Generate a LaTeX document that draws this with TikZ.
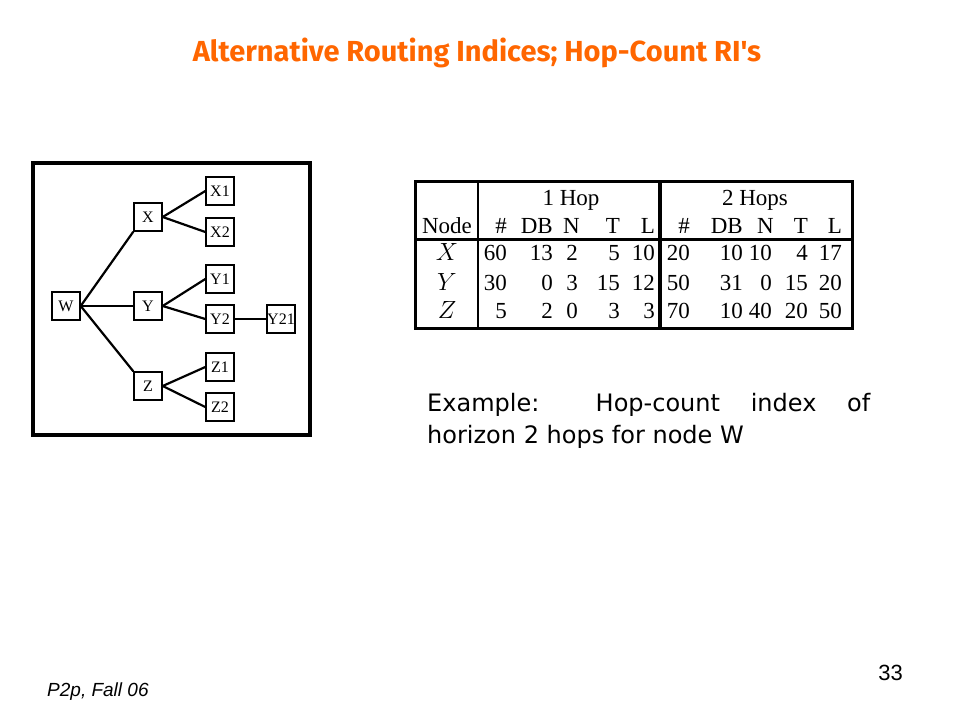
\documentclass[tikz,border=0pt]{standalone}
\usepackage{fontspec}
\setmainfont{Liberation Serif}
\newfontfamily\slidefont{Fira Sans}
\newfontfamily\bodyfont{DejaVu Sans}
\newfontfamily\numfont{Liberation Sans}
\usepackage{tikz}
\usetikzlibrary{positioning}

\definecolor{titleorange}{RGB}{255,102,0}

\begin{document}
\begin{tikzpicture}[x=1pt, y=-1pt,
		box/.style={draw, line width=1.4pt, fill=white, minimum width=28pt, minimum height=28pt, inner sep=0pt, font=\fontsize{16}{16}\selectfont},
		link/.style={line width=2.2pt},
		cell/.style={anchor=base east, inner sep=0pt, font=\fontsize{23}{23}\selectfont},
		head/.style={anchor=base, inner sep=0pt, font=\fontsize{23}{23}\selectfont}]
		\useasboundingbox (0, 0) rectangle (960, 720);
		% title
		\node[text=titleorange, font=\slidefont\bfseries\fontsize{29}{29}\selectfont] (title) at (477, 53) {Alternative Routing Indices; Hop-Count RI's};
		% tree of nodes
		\draw[line width=4pt] (33, 163) rectangle (310, 435);
		\node[box] (W) at (66, 306) {W};
		\node[box] (X) at (148, 217) {X};
		\node[box] (Y) at (148, 306) {Y};
		\node[box] (Z) at (148, 386) {Z};
		\node[box] (X1) at (220, 191) {X1};
		\node[box] (X2) at (220, 232) {X2};
		\node[box] (Y1) at (220, 279) {Y1};
		\node[box] (Y2) at (220, 319) {Y2};
		\node[box] (Y21) at (281, 319) {Y21};
		\node[box] (Z1) at (220, 367) {Z1};
		\node[box] (Z2) at (220, 407) {Z2};
		\draw[link] (W.east) -- (X.south west);
		\draw[link] (W.east) -- (Y.west);
		\draw[link] (W.east) -- (Z.north west);
		\draw[link] (X.east) -- (X1.west);
		\draw[link] (X.east) -- (X2.west);
		\draw[link] (Y.east) -- (Y1.west);
		\draw[link] (Y.east) -- (Y2.west);
		\draw[link] (Z.east) -- (Z1.west);
		\draw[link] (Z.east) -- (Z2.west);
		\draw[line width=1.2pt] (Y2.east) -- (Y21.west);
		% table
		\draw[line width=3pt] (415, 181) rectangle (852, 328);
		\draw[line width=2pt] (478, 181) -- (478, 328);
		\draw[line width=3.5pt] (660, 181) -- (660, 328);
		\draw[line width=3pt] (415, 239) -- (852, 239);
		\node[head] (hop1) at (571, 205) {1 Hop};
		\node[head] (hop2) at (755, 205) {2 Hops};
		\node[head] (nodecol) at (447, 233) {Node};
		\foreach \c/\t in {507/\#, 553/DB, 580/N, 620/T, 655/L, 690/\#, 743/DB, 774/N, 808/T, 842/L}
			\node[cell] at (\c, 233) {\t};
		\foreach \r/\y in {X/260, Y/290, Z/318}
			\node[head] (row\r) at (447, \y) {$\r$};
		\foreach \c/\a/\b/\d in {507/60/30/5, 553/13/0/2, 578/2/3/0, 620/5/15/3, 655/10/12/3, 690/20/50/70, 743/10/31/10, 772/10/0/40, 808/4/15/20, 842/17/20/50}
		{
			\node[cell] at (\c, 260) {\a};
			\node[cell] at (\c, 290) {\b};
			\node[cell] at (\c, 318) {\d};
		}
		% explanation
		\node[anchor=north west, inner sep=0pt, text width=443pt, align=justify, font=\bodyfont\fontsize{24}{32}\selectfont] (example) at (427, 393) {Example: Hop-count index of\linebreak horizon 2 hops for node W};
		% footer
		\node[anchor=base west, inner sep=0pt, font=\numfont\itshape\fontsize{19}{19}\selectfont] (course) at (47, 696) {P2p, Fall 06};
		\node[anchor=base east, inner sep=0pt, font=\numfont\fontsize{22}{22}\selectfont] (page) at (903, 680) {33};
\end{tikzpicture}
\end{document}
